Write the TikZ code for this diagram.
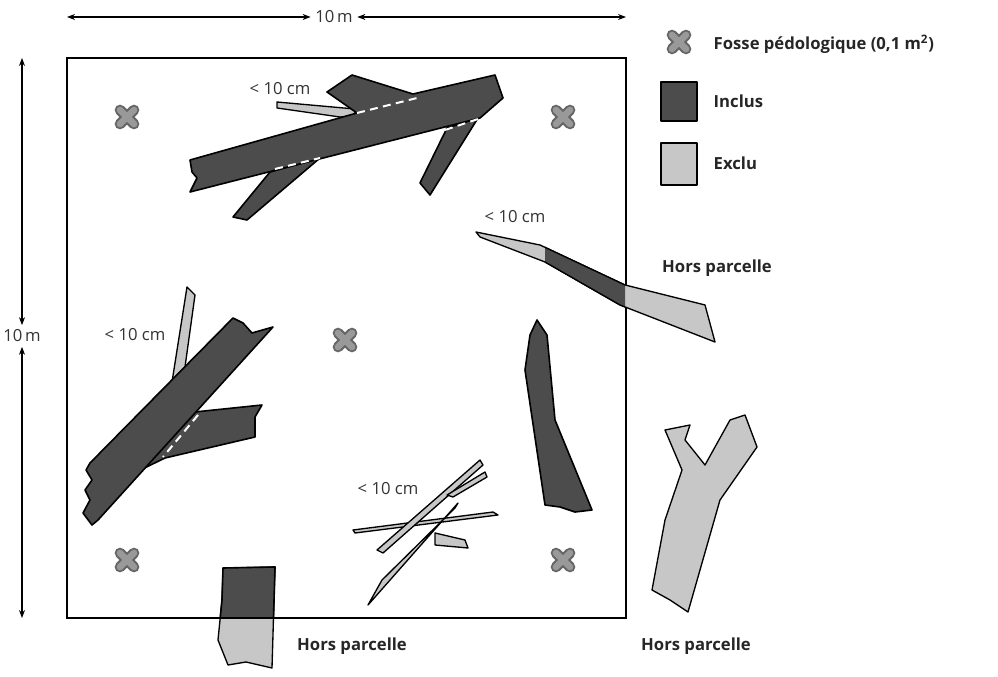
\documentclass[tikz,border=0pt]{standalone}
\usepackage{fontspec}
\setmainfont{Open Sans}
\usetikzlibrary{arrows.meta}
\tikzset{
  inclus/.style={fill=black!70,draw=black,line width=1.2pt,line join=round},
  exclu/.style={fill=black!22,draw=black,line width=1pt,line join=round},
  coupe/.style={white,line width=1.5pt,dash pattern=on 6pt off 4pt},
  etiq/.style={font=\fontsize{12.5}{14}\selectfont,text=black!80},
  legende/.style={font=\bfseries\fontsize{12.5}{14}\selectfont,anchor=west,text=black!85},
  cote/.style={{Stealth[length=6pt]}-{Stealth[length=6pt]},line width=0.8pt}
}
\newcommand{\fosse}[2]{%
  \draw[black!60,line width=8pt,line cap=round] (#1-7,#2-7) -- (#1+7,#2+7) (#1-7,#2+7) -- (#1+7,#2-7);
  \draw[black!40,line width=5pt,line cap=round] (#1-7,#2-7) -- (#1+7,#2+7) (#1-7,#2+7) -- (#1+7,#2-7);}
\begin{document}
\begin{tikzpicture}[x=0.75pt,y=-0.75pt]
\useasboundingbox (0,0) rectangle (998,677);
% parcelle
\draw[line width=1.2pt] (67,58) rectangle (626,618);
\node[etiq] (dimh) at (334,17) {10\,m};
\draw[cote] (67,17) -- (dimh.west);
\draw[cote] (626,17) -- (dimh.east);
\node[etiq] (dimv) at (22,336) {10\,m};
\draw[cote] (22,58) -- (dimv.north);
\draw[cote] (22,618) -- (dimv.south);
% fosses
\fosse{127}{117} \fosse{563}{117} \fosse{345}{340} \fosse{127}{560} \fosse{563}{560}
% bois du haut
\draw[exclu] (277,102) -- (355,109) -- (355,116) -- (340,117) -- (277,108) -- cycle;
\draw[inclus] (420,183) -- (447,128) -- (478,118) -- (430,195) -- cycle;
\draw[inclus] (233,217) -- (270,172) -- (320,158) -- (247,220) -- cycle;
\draw[inclus] (190,160) -- (357,113) -- (327,92) -- (352,75) -- (413,94) -- (495,75)
  -- (503,98) -- (480,118) -- (190,192) -- (197,178) -- (192,172) -- cycle;
\draw[coupe] (357,113) -- (417,98);
\draw[coupe] (445,130) -- (478,119);
\draw[coupe] (275,169) -- (320,158);
\node[etiq] (l1) at (280,89) {< 10 cm};
% bois de gauche
\draw[exclu] (187,287) -- (195,295) -- (185,367) -- (172,382) -- cycle;
\draw[inclus] (185,413) -- (262,405) -- (255,417) -- (255,437) -- (165,458) -- (130,475) -- cycle;
\draw[inclus] (233,318) -- (243,323) -- (252,333) -- (273,327) -- (98,520) -- (92,525)
  -- (83,513) -- (90,500) -- (85,490) -- (92,480) -- (86,470) -- (90,463) -- cycle;
\draw[coupe] (198,415) -- (163,457);
\node[etiq] (l2) at (135,335) {< 10 cm};
% bois en diagonale a droite
\draw[exclu] (476,232) -- (540,245) -- (625,285) -- (705,305) -- (715,342) -- (620,305)
  -- (545,262) -- (480,237) -- cycle;
\begin{scope}
\clip (545,200) rectangle (625,330);
\draw[inclus,line width=1pt] (476,232) -- (540,245) -- (625,285) -- (705,305) -- (715,342)
  -- (620,305) -- (545,262) -- (480,237) -- cycle;
\end{scope}
\node[etiq] (l3) at (515,217) {< 10 cm};
% bois vertical
\draw[inclus] (537,320) -- (547,335) -- (555,420) -- (592,510) -- (575,512) -- (560,507)
  -- (545,505) -- (525,370) -- (530,335) -- cycle;
% brindilles
\draw[exclu] (353,530) -- (493,512) -- (498,515) -- (355,533) -- cycle;
\draw[exclu] (377,550) -- (480,460) -- (483,465) -- (383,553) -- cycle;
\draw[exclu] (447,495) -- (485,472) -- (487,477) -- (453,497) -- cycle;
\draw[exclu] (368,605) -- (458,503) -- (455,508) -- (382,580) -- cycle;
\draw[exclu] (435,533) -- (465,540) -- (468,548) -- (435,545) -- cycle;
\node[etiq] (l4) at (388,489) {< 10 cm};
% bois du bas
\draw[exclu] (223,568) -- (275,567) -- (272,668) -- (246,662) -- (228,665) -- (218,640) -- (222,600) -- cycle;
\begin{scope}
\clip (200,550) rectangle (290,618);
\draw[inclus] (223,568) -- (275,567) -- (272,668) -- (246,662) -- (228,665) -- (218,640) -- (222,600) -- cycle;
\end{scope}
\draw[line width=1.2pt] (220,618) -- (274,618);
% bois en Y hors parcelle
\draw[exclu] (665,430) -- (690,425) -- (685,440) -- (705,465) -- (730,420) -- (745,415)
  -- (757,447) -- (720,500) -- (688,612) -- (670,600) -- (652,590) -- (665,520) -- (682,470) -- cycle;
% hors parcelle
\node[legende,anchor=center] (h1) at (717,268) {Hors parcelle};
\node[legende,anchor=center] (h2) at (352,646) {Hors parcelle};
\node[legende,anchor=center] (h3) at (696,646) {Hors parcelle};
% legende
\fosse{679}{42}
\node[legende] (lf) at (709,44) {Fosse pédologique (0,1 m\textsuperscript{2})};
\draw[inclus,line width=1pt] (661,82) rectangle (697,121);
\node[legende] (li) at (709,101) {Inclus};
\draw[exclu] (661,143) rectangle (697,185);
\node[legende] (le) at (709,163) {Exclu};
\end{tikzpicture}
\end{document}
